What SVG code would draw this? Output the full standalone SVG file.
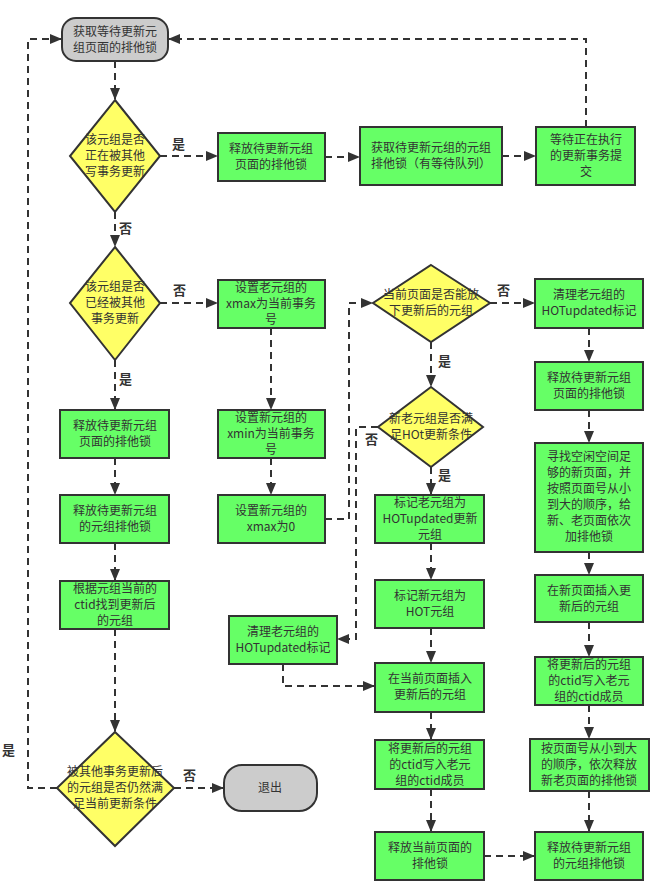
<svg xmlns="http://www.w3.org/2000/svg" width="663" height="893" viewBox="0 0 663 893">
<defs>
<marker id="arr" markerWidth="12" markerHeight="10" refX="11" refY="5" orient="auto" markerUnits="userSpaceOnUse">
<path d="M0,0 L12,5 L0,10 z" fill="#333"/>
</marker>
<style>
.box{fill:#66FF66;stroke:#333;stroke-width:2}
.dia{fill:#FFFF66;stroke:#333;stroke-width:2}
.term{fill:#CCCCCC;stroke:#333;stroke-width:2}
.t{font-family:"Noto Sans CJK SC","Liberation Sans",sans-serif;font-size:12px;fill:#333;text-anchor:middle}
.lbl{font-family:"Noto Sans CJK SC","Liberation Sans",sans-serif;font-size:13px;font-weight:bold;fill:#333}
.c{fill:none;stroke:#333;stroke-width:2;stroke-dasharray:7,5;marker-end:url(#arr)}
.cn{fill:none;stroke:#333;stroke-width:2;stroke-dasharray:7,5}
</style>
</defs>
<rect width="663" height="893" fill="#fff"/>

<g id="connectors">
<path class="c" d="M115,61 V99"/>
<path class="c" d="M115,212 V246"/>
<path class="c" d="M115,360 V409"/>
<path class="c" d="M115,458 V494"/>
<path class="c" d="M115,543 V580"/>
<path class="c" d="M115,629 V731"/>
<path class="c" d="M160,156 H217"/>
<path class="c" d="M325,157 H359"/>
<path class="c" d="M502,156 H535"/>
<path class="c" d="M586,127 V39 H169"/>
<path class="c" d="M57,788 H28 V39 H61"/>
<path class="c" d="M174,788 H223"/>
<path class="c" d="M160,303 H217"/>
<path class="c" d="M271,328 V409"/>
<path class="c" d="M271,458 V494"/>
<path class="c" d="M325,519 H349 V303 H372"/>
<path class="c" d="M490,303 H534"/>
<path class="c" d="M431,342 V386"/>
<path class="c" d="M431,467 V494"/>
<path class="c" d="M378,427 H356 V639 H338"/>
<path class="c" d="M283,664 V686 H374"/>
<path class="c" d="M431,543 V579"/>
<path class="c" d="M431,628 V662"/>
<path class="c" d="M431,712 V739"/>
<path class="c" d="M431,789 V831"/>
<path class="c" d="M484,856 H534"/>
<path class="c" d="M589,328 V361"/>
<path class="c" d="M589,410 V442"/>
<path class="c" d="M589,552 V574"/>
<path class="c" d="M589,622 V656"/>
<path class="c" d="M589,705 V738"/>
<path class="c" d="M589,791 V831"/>
<text class="lbl" x="172" y="149">是</text>
<text class="lbl" x="119" y="233">否</text>
<text class="lbl" x="173" y="295">否</text>
<text class="lbl" x="119" y="384">是</text>
<text class="lbl" x="497" y="295">否</text>
<text class="lbl" x="438" y="366">是</text>
<text class="lbl" x="365" y="444">否</text>
<text class="lbl" x="438" y="480">是</text>
<text class="lbl" x="183" y="780">否</text>
<text class="lbl" x="2" y="755">是</text>
</g>

<g id="start">
<rect class="term" x="62" y="18" width="106" height="43" rx="14"/>
<text class="t" x="115" y="36">获取等待更新元<tspan x="115" dy="16">组页面的排他锁</tspan></text>
</g>
<g id="d1">
<polygon class="dia" points="115,100 160,156 115,212 70,156"/>
<text class="t" x="115" y="144">该元组是否<tspan x="115" dy="16">正在被其他</tspan><tspan x="115" dy="16">写事务更新</tspan></text>
</g>
<g id="b_release_page1">
<rect class="box" x="218" y="133" width="107" height="48"/>
<text class="t" x="271" y="153">释放待更新元组<tspan x="271" dy="16">页面的排他锁</tspan></text>
</g>
<g id="b_get_tuple_lock">
<rect class="box" x="360" y="127" width="142" height="58"/>
<text class="t" x="431" y="152">获取待更新元组的元组<tspan x="431" dy="16">排他锁（有等待队列）</tspan></text>
</g>
<g id="b_wait">
<rect class="box" x="536" y="127" width="99" height="58"/>
<text class="t" x="586" y="144">等待正在执行<tspan x="586" dy="16">的更新事务提</tspan><tspan x="586" dy="16">交</tspan></text>
</g>
<g id="d2">
<polygon class="dia" points="115,247 160,303 115,360 70,303"/>
<text class="t" x="115" y="291">该元组是否<tspan x="115" dy="16">已经被其他</tspan><tspan x="115" dy="16">事务更新</tspan></text>
</g>
<g id="b_set_old_xmax">
<rect class="box" x="218" y="280" width="107" height="48"/>
<text class="t" x="271" y="292">设置老元组的<tspan x="271" dy="16">xmax为当前事务</tspan><tspan x="271" dy="16">号</tspan></text>
</g>
<g id="b_release_page2">
<rect class="box" x="60" y="410" width="109" height="48"/>
<text class="t" x="115" y="430">释放待更新元组<tspan x="115" dy="16">页面的排他锁</tspan></text>
</g>
<g id="b_set_new_xmin">
<rect class="box" x="218" y="410" width="107" height="48"/>
<text class="t" x="271" y="422">设置新元组的<tspan x="271" dy="16">xmin为当前事务</tspan><tspan x="271" dy="16">号</tspan></text>
</g>
<g id="b_release_tuple1">
<rect class="box" x="60" y="495" width="109" height="48"/>
<text class="t" x="115" y="515">释放待更新元组<tspan x="115" dy="16">的元组排他锁</tspan></text>
</g>
<g id="b_set_new_xmax">
<rect class="box" x="218" y="495" width="107" height="48"/>
<text class="t" x="271" y="515">设置新元组的<tspan x="271" dy="16">xmax为0</tspan></text>
</g>
<g id="b_find_ctid">
<rect class="box" x="60" y="581" width="109" height="48"/>
<text class="t" x="115" y="593">根据元组当前的<tspan x="115" dy="16">ctid找到更新后</tspan><tspan x="115" dy="16">的元组</tspan></text>
</g>
<g id="d5">
<polygon class="dia" points="115,732 174,788 115,846 57,788"/>
<text class="t" x="115" y="776">被其他事务更新后<tspan x="115" dy="16">的元组是否仍然满</tspan><tspan x="115" dy="16">足当前更新条件</tspan></text>
</g>
<g id="exit">
<rect class="term" x="224" y="765" width="93" height="46" rx="18"/>
<text class="t" x="270" y="792">退出</text>
</g>
<g id="d3">
<polygon class="dia" points="431,265 490,303 431,342 373,303"/>
<text class="t" x="431" y="299">当前页面是否能放<tspan x="431" dy="16">下更新后的元组</tspan></text>
</g>
<g id="d4">
<polygon class="dia" points="431,387 483,427 431,467 378,427"/>
<text class="t" x="431" y="423">新老元组是否满<tspan x="431" dy="16">足HOt更新条件</tspan></text>
</g>
<g id="b_clear_hot_right">
<rect class="box" x="535" y="279" width="108" height="49"/>
<text class="t" x="589" y="299">清理老元组的<tspan x="589" dy="16">HOTupdated标记</tspan></text>
</g>
<g id="b_release_page3">
<rect class="box" x="535" y="362" width="108" height="48"/>
<text class="t" x="589" y="382">释放待更新元组<tspan x="589" dy="16">页面的排他锁</tspan></text>
</g>
<g id="b_find_page">
<rect class="box" x="535" y="443" width="108" height="109"/>
<text class="t" x="589" y="461">寻找空闲空间足<tspan x="589" dy="16">够的新页面，并</tspan><tspan x="589" dy="16">按照页面号从小</tspan><tspan x="589" dy="16">到大的顺序，给</tspan><tspan x="589" dy="16">新、老页面依次</tspan><tspan x="589" dy="16">加排他锁</tspan></text>
</g>
<g id="b_insert_new_page">
<rect class="box" x="535" y="575" width="108" height="47"/>
<text class="t" x="589" y="595">在新页面插入更<tspan x="589" dy="16">新后的元组</tspan></text>
</g>
<g id="b_write_ctid_right">
<rect class="box" x="535" y="657" width="108" height="48"/>
<text class="t" x="589" y="669">将更新后的元组<tspan x="589" dy="16">的ctid写入老元</tspan><tspan x="589" dy="16">组的ctid成员</tspan></text>
</g>
<g id="b_release_pages">
<rect class="box" x="530" y="739" width="119" height="52"/>
<text class="t" x="589" y="753">按页面号从小到大<tspan x="589" dy="16">的顺序，依次释放</tspan><tspan x="589" dy="16">新老页面的排他锁</tspan></text>
</g>
<g id="b_release_tuple2">
<rect class="box" x="535" y="832" width="108" height="48"/>
<text class="t" x="589" y="852">释放待更新元组<tspan x="589" dy="16">的元组排他锁</tspan></text>
</g>
<g id="b_mark_old_hot">
<rect class="box" x="375" y="495" width="109" height="48"/>
<text class="t" x="430" y="507">标记老元组为<tspan x="430" dy="16">HOTupdated更新</tspan><tspan x="430" dy="16">元组</tspan></text>
</g>
<g id="b_mark_new_hot">
<rect class="box" x="375" y="580" width="109" height="48"/>
<text class="t" x="430" y="600">标记新元组为<tspan x="430" dy="16">HOT元组</tspan></text>
</g>
<g id="b_clear_hot_left">
<rect class="box" x="229" y="616" width="108" height="48"/>
<text class="t" x="283" y="636">清理老元组的<tspan x="283" dy="16">HOTupdated标记</tspan></text>
</g>
<g id="b_insert_cur_page">
<rect class="box" x="375" y="663" width="109" height="49"/>
<text class="t" x="430" y="683">在当前页面插入<tspan x="430" dy="16">更新后的元组</tspan></text>
</g>
<g id="b_write_ctid_mid">
<rect class="box" x="375" y="740" width="109" height="49"/>
<text class="t" x="430" y="753">将更新后的元组<tspan x="430" dy="16">的ctid写入老元</tspan><tspan x="430" dy="16">组的ctid成员</tspan></text>
</g>
<g id="b_release_cur_page">
<rect class="box" x="375" y="832" width="109" height="48"/>
<text class="t" x="430" y="852">释放当前页面的<tspan x="430" dy="16">排他锁</tspan></text>
</g>
</svg>
